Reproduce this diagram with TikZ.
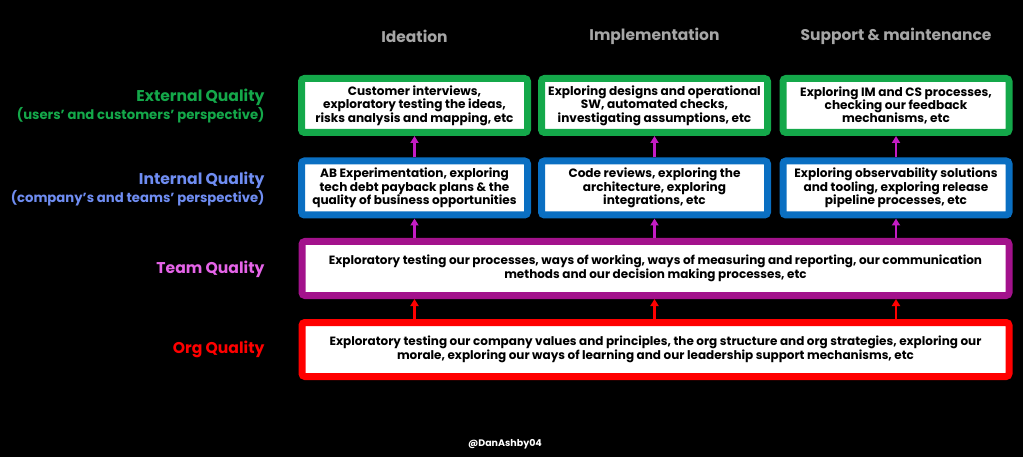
\documentclass[tikz,border=0pt]{standalone}
\usepackage{fontspec}
\setmainfont{Poppins}
\usetikzlibrary{arrows.meta}
\definecolor{extgreen}{HTML}{14A84A}
\definecolor{intblue}{HTML}{0A6FC2}
\definecolor{intlabel}{HTML}{6F8DF2}
\definecolor{teampurple}{HTML}{A3128C}
\definecolor{teamlabel}{HTML}{E564E8}
\definecolor{orgred}{HTML}{FF0000}
\definecolor{arrowpink}{HTML}{C41CC4}
\definecolor{headgray}{HTML}{A6A6A6}
\newcommand{\labsub}{\fontsize{13.2}{14.5}\selectfont}
\tikzset{
  qbox/.style={draw, fill=white, line width=7pt, rounded corners=3pt, align=center,
    inner sep=0pt, font=\bfseries\fontsize{12.1}{13.4}\selectfont},
  colbox/.style={qbox, minimum width=226pt, minimum height=54pt},
  widebox/.style={qbox, minimum width=707pt, minimum height=54pt, font=\bfseries\fontsize{12}{14}\selectfont},
  qlabel/.style={anchor=east, align=right, font=\bfseries\fontsize{15.6}{15.5}\selectfont},
  head/.style={text=headgray, font=\bfseries\fontsize{15.5}{17}\selectfont},
  uparrow/.style={line width=2.5pt, -{Triangle[width=8pt,length=7pt]}}
}
\begin{document}
\begin{tikzpicture}[x=1pt,y=-1pt]
\fill[black] (0,0) rectangle (1023,457);
\node[head] (hd1) at (414.5,36) {Ideation};
\node[head] (hd2) at (654.5,36) {Implementation};
\node[head] (hd3) at (896,36) {Support \& maintenance};
%external row
\node[colbox, draw=extgreen] (e1) at (414.5,105.5) {Customer interviews,\\exploratory testing the ideas,\\risks analysis and mapping, etc};
\node[colbox, draw=extgreen] (e2) at (654.5,105.5) {Exploring designs and operational\\SW, automated checks,\\investigating assumptions, etc};
\node[colbox, draw=extgreen] (e3) at (896,105.5) {Exploring IM and CS processes,\\checking our feedback\\mechanisms, etc};
%internal row
\node[colbox, draw=intblue] (i1) at (414.5,188) {AB Experimentation, exploring\\tech debt payback plans \& the\\quality of business opportunities};
\node[colbox, draw=intblue] (i2) at (654.5,188) {Code reviews, exploring the\\architecture, exploring\\integrations, etc};
\node[colbox, draw=intblue] (i3) at (896,188) {Exploring observability solutions\\and tooling, exploring release\\pipeline processes, etc};
\node[widebox, draw=teampurple] (team) at (655.5,268.5) {Exploratory testing our processes, ways of working, ways of measuring and reporting, our communication\\methods and our decision making processes, etc};
\node[widebox, draw=orgred] (org) at (655.5,349.5) {Exploratory testing our company values and principles, the org structure and org strategies, exploring our\\morale, exploring our ways of learning and our leadership support mechanisms, etc};
%labels
\node[qlabel, text=extgreen] (lext) at (268,106) {External Quality\\{\labsub(users' and customers' perspective)}};
\node[qlabel, text=intlabel] (lint) at (268,189) {Internal Quality\\{\labsub(company's and teams' perspective)}};
\node[qlabel, text=teamlabel] (lteam) at (268,269) {Team Quality};
\node[qlabel, text=orgred] (lorg) at (268,349) {Org Quality};
\foreach \c in {1,2,3}{
  \draw[uparrow, arrowpink] (i\c.north) -- (e\c.south);
  \draw[uparrow, arrowpink] (team.north -| i\c.south) -- (i\c.south);
  \draw[uparrow, orgred] (org.north -| i\c.south) -- (team.south -| i\c.south);
}
\node[text=white, font=\bfseries\fontsize{9.5}{12}\selectfont] (tag) at (505,444) {@DanAshby04};
\end{tikzpicture}
\end{document}
